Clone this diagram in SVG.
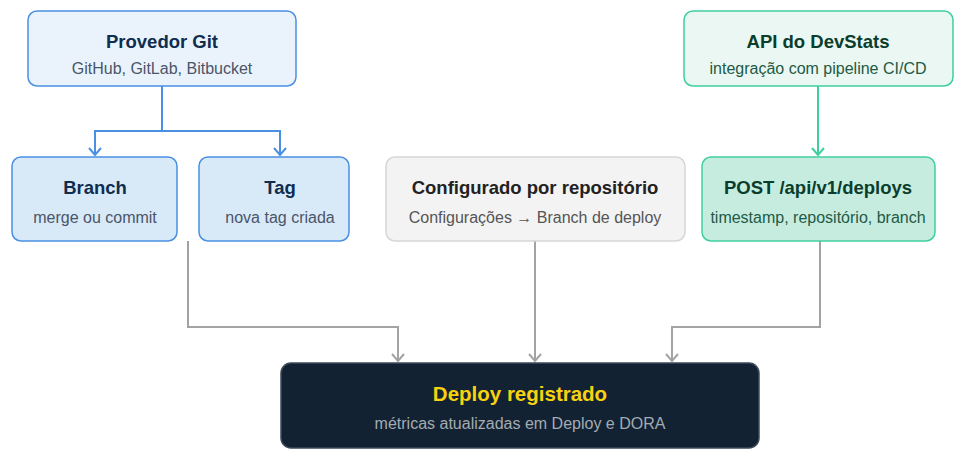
<svg xmlns="http://www.w3.org/2000/svg" width="968" height="453" viewBox="0 0 968 453">
<defs>
<style>
.t{font-family:"Liberation Sans",Arial,sans-serif;font-weight:bold;font-size:18.5px;text-anchor:middle}
.s{font-family:"Liberation Sans",Arial,sans-serif;font-size:16px;text-anchor:middle}
.blue rect{fill:#d8e9f8;stroke:#4a90e2;stroke-width:1.5}
.blue .t{fill:#0f2d4f}
.blue .s{fill:#4a5568}
.bluel rect{fill:#eaf3fc}
.green rect{fill:#c6ece0;stroke:#3fcf9f;stroke-width:1.5}
.greenl rect{fill:#eaf7f2}
.green .t{fill:#0b3d2c}
.green .s{fill:#1e5a45}
.gray rect{fill:#f3f3f3;stroke:#d6d6d6;stroke-width:1.5}
.gray .t{fill:#222}
.gray .s{fill:#555}
.dark rect{fill:#132232;stroke:#3c4a58;stroke-width:1.5}
.dark .t{fill:#f7d20f;font-size:20.5px}
.dark .s{fill:#a3abb3}
.c{fill:none;stroke-width:2}
.cb{stroke:#4a90e2}
.cg{stroke:#3fcf9f}
.cy{stroke:#a3a3a3}
</style>
<marker id="ab" viewBox="0 0 12 10" refX="6" refY="9" markerWidth="12" markerHeight="10" markerUnits="userSpaceOnUse" orient="auto-start-reverse"><path d="M1 2 L6 8.5 L11 2" fill="none" stroke="#4a90e2" stroke-width="2"/></marker>
</defs>
<g id="connectors">
<path class="c cb" d="M162 86 V131 H95 V155"/>
<path class="c cb" d="M162 131 H280 V155"/>
<path class="c cg" d="M818 86 V155"/>
<path class="c cy" d="M188 241 V327 H398 V361"/>
<path class="c cy" d="M535 241 V361"/>
<path class="c cy" d="M820 241 V327 H672 V361"/>
<path class="c cb" d="M89 148 L95 155 L101 148"/>
<path class="c cb" d="M274 148 L280 155 L286 148"/>
<path class="c cg" d="M812 148 L818 155 L824 148"/>
<path class="c cy" d="M392 354 L398 361 L404 354"/>
<path class="c cy" d="M529 354 L535 361 L541 354"/>
<path class="c cy" d="M666 354 L672 361 L678 354"/>
</g>
<g id="provedor" class="blue bluel">
<rect x="28" y="11" width="268" height="75" rx="9"/>
<text class="t" x="162" y="48">Provedor Git</text>
<text class="s" x="162" y="74">GitHub, GitLab, Bitbucket</text>
</g>
<g id="api" class="green greenl">
<rect x="684" y="11" width="269" height="75" rx="9"/>
<text class="t" x="818" y="48">API do DevStats</text>
<text class="s" x="818" y="74">integração com pipeline CI/CD</text>
</g>
<g id="branch" class="blue">
<rect x="12" y="157" width="165" height="84" rx="9"/>
<text class="t" x="95" y="194">Branch</text>
<text class="s" x="95" y="223">merge ou commit</text>
</g>
<g id="tag" class="blue">
<rect x="199" y="157" width="150" height="84" rx="9"/>
<text class="t" x="280" y="194">Tag</text>
<text class="s" x="280" y="223">nova tag criada</text>
</g>
<g id="config" class="gray">
<rect x="386" y="157" width="299" height="84" rx="9"/>
<text class="t" x="535" y="194">Configurado por repositório</text>
<text class="s" x="535" y="223">Configurações → Branch de deploy</text>
</g>
<g id="post" class="green">
<rect x="702" y="157" width="233" height="84" rx="9"/>
<text class="t" x="818" y="194">POST /api/v1/deploys</text>
<text class="s" x="818" y="223">timestamp, repositório, branch</text>
</g>
<g id="deploy" class="dark">
<rect x="281" y="363" width="478" height="85" rx="10"/>
<text class="t" x="520" y="401">Deploy registrado</text>
<text class="s" x="520" y="429">métricas atualizadas em Deploy e DORA</text>
</g>
</svg>
